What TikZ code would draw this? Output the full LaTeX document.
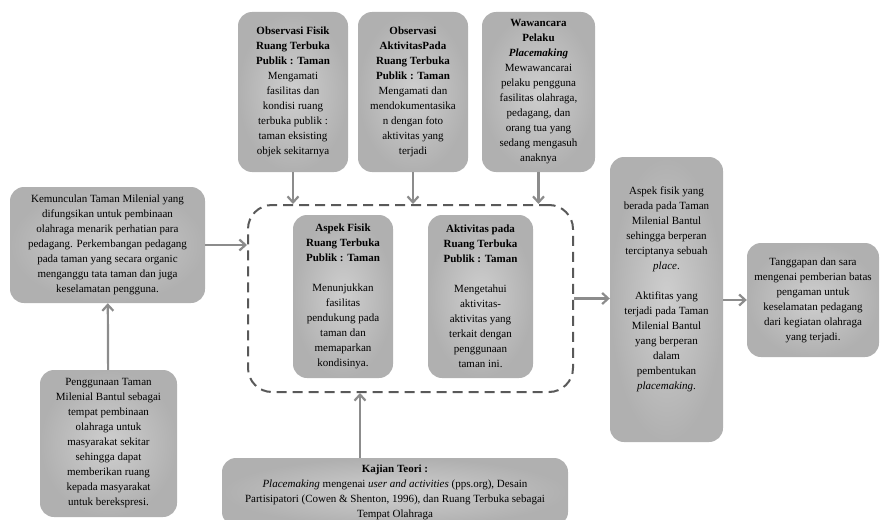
\documentclass[tikz,border=0pt]{standalone}
\usepackage{fontspec}
\setmainfont{Liberation Serif}
\usetikzlibrary{arrows.meta}

\begin{document}
\begin{tikzpicture}[
  x=1pt, y=-1pt,
  box/.style={
    shade,
    inner color=black!19,
    outer color=black!31,
    rectangle,
    rounded corners=14pt,
    align=center,
    inner sep=2pt,
    font=\fontsize{11}{15}\selectfont
  },
  groupbox/.style={
    draw=black!65,
    dash pattern=on 10pt off 6pt,
    line width=2pt,
    rectangle,
    rounded corners=24pt,
    minimum width=325pt,
    minimum height=187pt
  },
  arrow/.style={-{Straight Barb[length=6pt,width=11pt]}, line width=2.2pt, draw=black!45}
]
\useasboundingbox (0,0) rectangle (880,519);

% Background and problem.
\node[box, minimum width=195pt, minimum height=116pt] (emergence) at (107.5,245) {Kemunculan Taman Milenial yang\\difungsikan untuk pembinaan\\olahraga menarik perhatian para\\pedagang. Perkembangan pedagang\\pada taman yang secara organic\\menganggu tata taman dan juga\\keselamatan pengguna.};
\node[box, minimum width=137pt, minimum height=147pt] (usage) at (108.5,443.5) {Penggunaan Taman\\Milenial Bantul sebagai\\tempat pembinaan\\olahraga untuk\\masyarakat sekitar\\sehingga dapat\\memberikan ruang\\kepada masyarakat\\untuk berekspresi.};

% Data collection methods.
\node[box, minimum width=110pt, minimum height=160pt] (obsphys) at (293,92) {\textbf{Observasi Fisik}\\\textbf{Ruang Terbuka}\\\textbf{Publik : Taman}\\Mengamati\\fasilitas dan\\kondisi ruang\\terbuka publik :\\taman eksisting\\objek sekitarnya};
\node[box, minimum width=110pt, minimum height=160pt] (obsact) at (413,92) {\textbf{Observasi}\\\textbf{AktivitasPada}\\\textbf{Ruang Terbuka}\\\textbf{Publik : Taman}\\Mengamati dan\\mendokumentasika\\n dengan foto\\aktivitas yang\\terjadi};
\node[box, minimum width=113pt, minimum height=160pt] (interview) at (538.5,92) {\textbf{Wawancara}\\\textbf{Pelaku}\\\textbf{\textit{Placemaking}}\\Mewawancarai\\pelaku pengguna\\fasilitas olahraga,\\pedagang, dan\\orang tua yang\\sedang mengasuh\\anaknya};

% Analysis aspects.
\node[groupbox] (group) at (410.5,298.5) {};
\node[box, minimum width=100pt, minimum height=163pt] (physical) at (343,296.5) {\textbf{Aspek Fisik}\\\textbf{Ruang Terbuka}\\\textbf{Publik : Taman}\\[15pt]Menunjukkan\\fasilitas\\pendukung pada\\taman dan\\memaparkan\\kondisinya.};
\node[box, minimum width=105pt, minimum height=163pt] (activity) at (480.5,296.5) {\textbf{Aktivitas pada}\\\textbf{Ruang Terbuka}\\\textbf{Publik : Taman}\\[15pt]Mengetahui\\aktivitas-\\aktivitas yang\\terkait dengan\\penggunaan\\taman ini.};

% Theory.
\node[box, minimum width=346pt, minimum height=68pt] (theory) at (395,492) {\textbf{Kajian Teori :}\\\textit{Placemaking} mengenai \textit{user and activities} (pps.org), Desain\\Partisipatori (Cowen \& Shenton, 1996), dan Ruang Terbuka sebagai\\Tempat Olahraga};

% Results and recommendation.
\node[box, minimum width=113pt, minimum height=285pt] (result) at (666.5,299.5) {Aspek fisik yang\\berada pada Taman\\Milenial Bantul\\sehingga berperan\\terciptanya sebuah\\\textit{place}.\\[15pt]Aktifitas yang\\terjadi pada Taman\\Milenial Bantul\\yang berperan\\dalam\\pembentukan\\\textit{placemaking}.\\[8pt]};
\node[box, minimum width=132pt, minimum height=114pt] (response) at (813,300) {Tanggapan dan sara\\mengenai pemberian batas\\pengaman untuk\\keselamatan pedagang\\dari kegiatan olahraga\\yang terjadi.};

% Arrows into the analysis.
\draw[arrow] (usage) -- (emergence);
\draw[arrow] (emergence.east) -- (emergence.east -| group.west);
\draw[arrow] (obsphys) -- (obsphys |- group.north);
\draw[arrow] (obsact) -- (obsact |- group.north);
\draw[arrow] (interview) -- (interview |- group.north);
\draw[arrow] ([xshift=-35pt]theory.north) -- ([xshift=-35pt]theory.north |- group.south);

% Arrows to the results.
\draw[arrow] (group.east) -- (group.east -| result.west);
\draw[arrow] (result.east |- response.west) -- (response.west);

\end{tikzpicture}
\end{document}
